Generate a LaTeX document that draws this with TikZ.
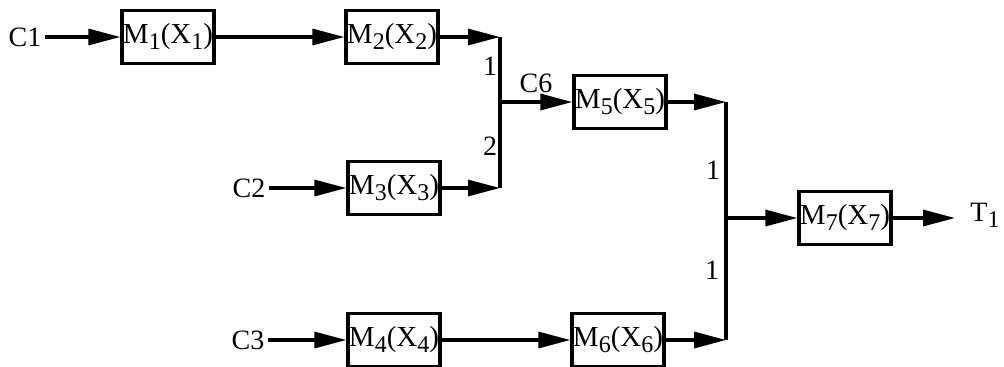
\documentclass[tikz,border=0pt]{standalone}
\usepackage{fontspec}
\setmainfont{Liberation Serif}
\usetikzlibrary{arrows.meta}
\newcommand{\lowidx}[1]{\raisebox{-0.45ex}{\fontsize{12}{13}\selectfont #1}}

\begin{document}
\begin{tikzpicture}[x=0.5pt, y=-0.5pt,
    machine/.style={draw, line width=1.6pt, minimum width=46pt, minimum height=26.5pt, inner sep=0pt, font=\fontsize{14.5}{16}\selectfont},
    flow/.style={-{Triangle[length=16pt,width=8pt]}, line width=1.6pt},
    bar/.style={line width=1.6pt, line cap=square},
    lbl/.style={inner sep=1.5pt, font=\fontsize{14}{16}\selectfont}
]
  \useasboundingbox (0,0) rectangle (1004,366);

  % Machines
  \node[machine] (m1) at (168,37) {M\lowidx{1}(X\lowidx{1})};
  \node[machine] (m2) at (392,37) {M\lowidx{2}(X\lowidx{2})};
  \node[machine] (m3) at (394,188) {M\lowidx{3}(X\lowidx{3})};
  \node[machine] (m4) at (394,340) {M\lowidx{4}(X\lowidx{4})};
  \node[machine] (m5) at (620,102) {M\lowidx{5}(X\lowidx{5})};
  \node[machine] (m6) at (618,340) {M\lowidx{6}(X\lowidx{6})};
  \node[machine] (m7) at (845,218) {M\lowidx{7}(X\lowidx{7})};

  % Inputs and output
  \node[lbl] (c1) at (25,37) {C1};
  \node[lbl] (c2) at (249,188) {C2};
  \node[lbl] (c3) at (248,340) {C3};
  \node[lbl] (t1) at (985,215) {T\lowidx{1}};

  % Assembly points
  \coordinate (j1a) at (500,37);
  \coordinate (j1b) at (500,188);
  \coordinate (j1c) at (500,102);
  \coordinate (j2a) at (726,102);
  \coordinate (j2b) at (726,340);
  \coordinate (j2c) at (726,218);
  \coordinate (out) at (955,218);

  % Flows
  \draw[flow] (c1) -- (m1);
  \draw[flow] (m1) -- (m2);
  \draw[flow] (m2) -- (j1a);
  \draw[flow] (c2) -- (m3);
  \draw[flow] (m3) -- (j1b);
  \draw[bar] (j1a) -- (j1b);
  \draw[flow] (j1c) -- (m5);
  \draw[flow] (c3) -- (m4);
  \draw[flow] (m4) -- (m6);
  \draw[flow] (m5) -- (j2a);
  \draw[flow] (m6) -- (j2b);
  \draw[bar] (j2a) -- (j2b);
  \draw[flow] (j2c) -- (m7);
  \draw[flow] (m7) -- (out);

  % Quantities
  \node[lbl] at (490,66) {1};
  \node[lbl] at (490,146) {2};
  \node[lbl, anchor=south] at (536,96) {C6};
  \node[lbl] at (713,170) {1};
  \node[lbl] at (712,270) {1};
\end{tikzpicture}
\end{document}
